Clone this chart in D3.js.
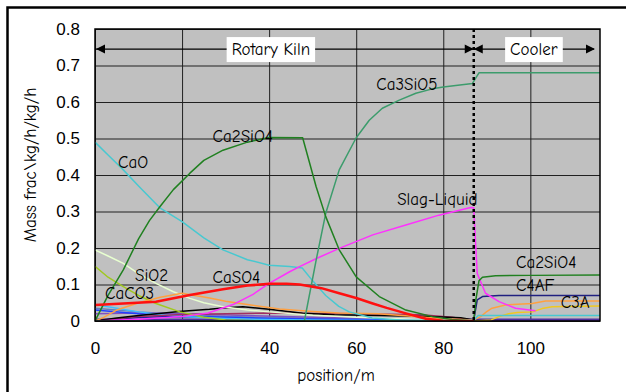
<!DOCTYPE html>
<html>
<head>
<meta charset="utf-8">
<script src="https://cdn.jsdelivr.net/npm/d3@7"></script>
<style>
  body{margin:0;background:#fff;}
  svg{display:block;font-family:"Comic Sans MS","Comic Neue","DejaVu Sans",sans-serif;}
</style>
</head>
<body>
<script>
// x: position along kiln + cooler (m), y: mass fraction
let xTicks=[0,20,40,60,80,100];
let yTicks=[0,0.1,0.2,0.3,0.4,0.5,0.6,0.7,0.8];
let kilnEnd=87;

// species curves [position, mass frac]
let CaO=[[0,0.49],[3,0.455],[6.5,0.414],[10,0.37],[15,0.309],[20,0.272],[25,0.228],[29.4,0.195],[35,0.168],[40,0.153],[44.7,0.149],[47.6,0.145],[50,0.11],[53,0.07],[56,0.04],[58.4,0.025],[63.7,0.008],[70,0.003],[87,0.002],[88,0.015],[116,0.015]];
let Ca2SiO4=[[0,0],[3,0.07],[6.5,0.14],[10,0.225],[12.5,0.275],[14.9,0.313],[18,0.36],[21.8,0.405],[25,0.44],[29.4,0.468],[35,0.49],[40,0.503],[47.7,0.502],[50.8,0.368],[53,0.286],[56.1,0.195],[60,0.121],[65.3,0.067],[71.4,0.03],[77.5,0.012],[82,0.004],[87,0],[87.5,0.06],[88.2,0.11],[89,0.12],[92,0.124],[100,0.125],[116,0.126]];
let Ca3SiO5=[[0,0],[48.1,0],[50.8,0.167],[53,0.295],[56.1,0.414],[60,0.502],[63,0.55],[66,0.583],[69.9,0.605],[73.7,0.624],[77.5,0.636],[80,0.641],[86.7,0.651],[88.2,0.68],[116,0.68]];
let slagLiquid=[[0,0],[10,0.005],[20,0.012],[26,0.022],[31.7,0.045],[36.3,0.073],[40,0.103],[44.7,0.135],[47,0.149],[51,0.172],[56.1,0.199],[63.8,0.236],[71.4,0.263],[79,0.29],[86.3,0.311],[87,0.31],[87.8,0.13],[89.7,0.076],[92.8,0.053],[96.6,0.035],[101.2,0.028]];
let CaSO4=[[0,0.044],[6.5,0.048],[14,0.053],[21.8,0.071],[29.4,0.087],[35,0.097],[40,0.102],[44,0.102],[47,0.1],[52,0.09],[56.1,0.076],[60,0.063],[63.8,0.048],[67,0.036],[71.4,0.021],[76,0.006],[80,0.001],[87,0]];
let CaCO3=[[0,0.15],[3,0.12],[6.5,0.094],[10,0.07],[14,0.048],[19.5,0.025],[25,0.01],[30,0.003],[40,0],[87,0]];
let SiO2=[[0,0.195],[3,0.178],[6.5,0.158],[10,0.13],[14,0.103],[18,0.08],[21.8,0.062],[25,0.05],[29.4,0.039],[35,0.03],[40,0.025],[50,0.016],[60,0.01],[70,0.006],[87,0.002]];
let C3A=[[0,0],[2,0.01],[5,0.03],[10,0.05],[15,0.065],[20,0.076],[26.3,0.063],[30,0.054],[35,0.045],[42.4,0.033],[50,0.026],[56,0.022],[65,0.02],[72,0.014],[80,0.006],[87,0.003],[88.6,0.012],[90,0.026],[91.2,0.035],[94.3,0.044],[100.4,0.048],[103.5,0.055],[116,0.055]];
let C3Ayellow=[[87,0],[91,0.003],[92.8,0.012],[95,0.02],[97,0.023],[100.5,0.025],[102.7,0.034],[105,0.039],[108,0.04],[116,0.041]];
let C4AF=[[87,0.003],[87.4,0.03],[87.8,0.058],[89,0.067],[92.8,0.07],[116,0.07]];
let other1=[[0,0],[5,0.008],[10,0.015],[20,0.027],[26.3,0.032],[30,0.036],[34,0.039],[40,0.032],[47.7,0.021],[55,0.017],[65.3,0.015],[76.7,0.012],[84,0.009],[87,0.003]];
let other2=[[0,0],[10,0.012],[20,0.018],[40,0.022],[60,0.02],[75,0.017],[82,0.01],[87,0.002]];
let other3=[[0,0.045],[5,0.035],[10,0.025],[15,0.018],[20,0.012],[30,0.007],[40,0.004],[55,0.002],[87,0]];
let other4=[[0,0.03],[10,0.02],[20,0.013],[30,0.01],[40,0.007],[60,0.004],[87,0.001]];
let other5=[[0,0.02],[10,0.022],[20,0.02],[35,0.015],[50,0.01],[70,0.006],[87,0.002]];
let other6=[[0,0.035],[10,0.025],[20,0.018],[30,0.012],[45,0.008],[87,0.003]];
let other7=[[0,0],[10,0.01],[20,0.012],[30,0.01],[50,0.006],[87,0.003]];
let other8=[[0,0.003],[116,0.003]];

let series=[
  {d:other8,c:"#5030a0",w:3},
  {d:other7,c:"#1010a0",w:1.5},
  {d:other6,c:"#6080c0",w:1.5},
  {d:other5,c:"#8050c0",w:1.5},
  {d:other4,c:"#2040ff",w:1.5},
  {d:other3,c:"#40c0ff",w:1.5},
  {d:other2,c:"#a03060",w:1.5},
  {d:other1,c:"#000000",w:1.5},
  {d:SiO2,c:"#e8ffd0",w:1.5},
  {d:CaCO3,c:"#a0c820",w:1.5},
  {d:C3Ayellow,c:"#f0c820",w:1.5},
  {d:C3A,c:"#ffa040",w:1.5},
  {d:CaO,c:"#48c8d0",w:1.5},
  {d:C4AF,c:"#202080",w:1.5},
  {d:slagLiquid,c:"#ff30ff",w:1.5},
  {d:Ca3SiO5,c:"#3c9c6c",w:1.5},
  {d:Ca2SiO4,c:"#208020",w:1.5},
  {d:CaSO4,c:"#ff1010",w:2.5}
];

// curve labels [text, position, mass frac]
let labels=[
  ["CaO",5.3,0.419],["Ca2SiO4",27,0.49],["SiO2",9.2,0.11],["CaSO4",27,0.104],
  ["CaCO3",2.3,0.06],["Ca3SiO5",64.6,0.633],["Slag-Liquid",69.4,0.318],
  ["Ca2SiO4",96.7,0.145],["C4AF",96.7,0.081],["C3A",107,0.036]
];

let width=626,height=392;
let pL=95,pR=600,pT=29,pB=321;

let svg=d3.select("body").append("svg").attr("width",width).attr("height",height);

// outer frame
svg.append("rect").attr("x",7.5).attr("y",7.5).attr("width",700).attr("height",500)
  .style("fill","none").style("stroke","#000").style("stroke-width",2.5);

let x=d3.scaleLinear().domain([0,116]).range([pL,pR]);
let y=d3.scaleLinear().domain([0,0.8]).range([pB,pT]);

svg.append("rect").attr("x",pL).attr("y",pT).attr("width",pR-pL).attr("height",pB-pT)
  .style("fill","#c0c0c0");

// grid
let gx=svg.append("g").attr("transform","translate(0,"+pT+")")
  .call(d3.axisBottom(x).tickValues(xTicks).tickSize(pB-pT).tickFormat(""));
gx.select(".domain").remove();
gx.selectAll("line").style("stroke","#202020").style("stroke-width",1);
let gy=svg.append("g").attr("transform","translate("+pL+",0)")
  .call(d3.axisRight(y).tickValues(yTicks).tickSize(pR-pL).tickFormat(""));
gy.select(".domain").remove();
gy.selectAll("line").style("stroke","#202020").style("stroke-width",1);

// tick labels
let ax=svg.append("g").attr("transform","translate(0,"+pB+")")
  .call(d3.axisBottom(x).tickValues(xTicks).tickSize(0).tickPadding(21).tickFormat(d3.format("d")));
ax.select(".domain").remove();
ax.selectAll("text").style("font-size","17px").style("font-family","inherit").style("fill","#000");
let ay=svg.append("g").attr("transform","translate("+pL+",0)")
  .call(d3.axisLeft(y).tickValues(yTicks).tickSize(0).tickPadding(15).tickFormat(d=>d===0?"0":d.toFixed(1)));
ay.select(".domain").remove();
ay.selectAll("text").style("font-size","17px").style("font-family","inherit").style("fill","#000");

// curves
let line=d3.line().x(d=>x(d[0])).y(d=>y(d[1]));
svg.append("clipPath").attr("id","clip").append("rect")
  .attr("x",pL).attr("y",pT).attr("width",pR-pL).attr("height",pB-pT);
svg.append("g").attr("clip-path","url(#clip)").selectAll("path").data(series).enter().append("path")
  .attr("d",d=>line(d.d))
  .style("fill","none")
  .style("stroke",d=>d.c)
  .style("stroke-width",d=>d.w)
  .style("stroke-linejoin","round");

// plot border
svg.append("rect").attr("x",pL).attr("y",pT).attr("width",pR-pL).attr("height",pB-pT)
  .style("fill","none").style("stroke","#000").style("stroke-width",1.5);

// kiln / cooler boundary
svg.append("line").attr("x1",x(kilnEnd)).attr("x2",x(kilnEnd)).attr("y1",pT).attr("y2",pB)
  .style("stroke","#000").style("stroke-width",2.5).style("stroke-dasharray","3,3");

// zone arrows
let ya=y(0.745);
function arrowHead(px,dir){
  svg.append("path")
    .attr("d","M"+px+","+ya+"l"+(-dir*9)+",-4.5l0,9z")
    .style("fill","#000");
}
svg.append("line").attr("x1",x(0)).attr("x2",x(kilnEnd)).attr("y1",ya).attr("y2",ya)
  .style("stroke","#000").style("stroke-width",1.2);
svg.append("line").attr("x1",x(kilnEnd)).attr("x2",x(116)-6).attr("y1",ya).attr("y2",ya)
  .style("stroke","#000").style("stroke-width",1.2);
arrowHead(x(0)+1,-1);
arrowHead(x(kilnEnd),1);
arrowHead(x(kilnEnd),-1);
arrowHead(x(116)-5,1);

function zoneLabel(txt,pos){
  let g=svg.append("g");
  let r=g.append("rect");
  let t=g.append("text").attr("x",x(pos)).attr("y",ya+6).attr("text-anchor","middle")
    .style("font-size","17px").text(txt);
  let b=t.node().getBBox();
  r.attr("x",b.x-5).attr("y",ya-12).attr("width",b.width+10).attr("height",25)
    .style("fill","#fff");
}
zoneLabel("Rotary Kiln",40.4);
zoneLabel("Cooler",100.8);

// curve labels
svg.append("g").selectAll("text").data(labels).enter().append("text")
  .attr("x",d=>x(d[1])).attr("y",d=>y(d[2]))
  .style("font-size","17px").style("fill","#000")
  .text(d=>d[0]);

// axis titles
svg.append("text").attr("x",336).attr("y",381).attr("text-anchor","middle")
  .style("font-size","17px").text("position/m");
svg.append("text").attr("transform","translate(36,165) rotate(-90)").attr("text-anchor","middle")
  .style("font-size","17px").text("Mass frac\\kg/h/kg/h");
</script>
</body>
</html>
